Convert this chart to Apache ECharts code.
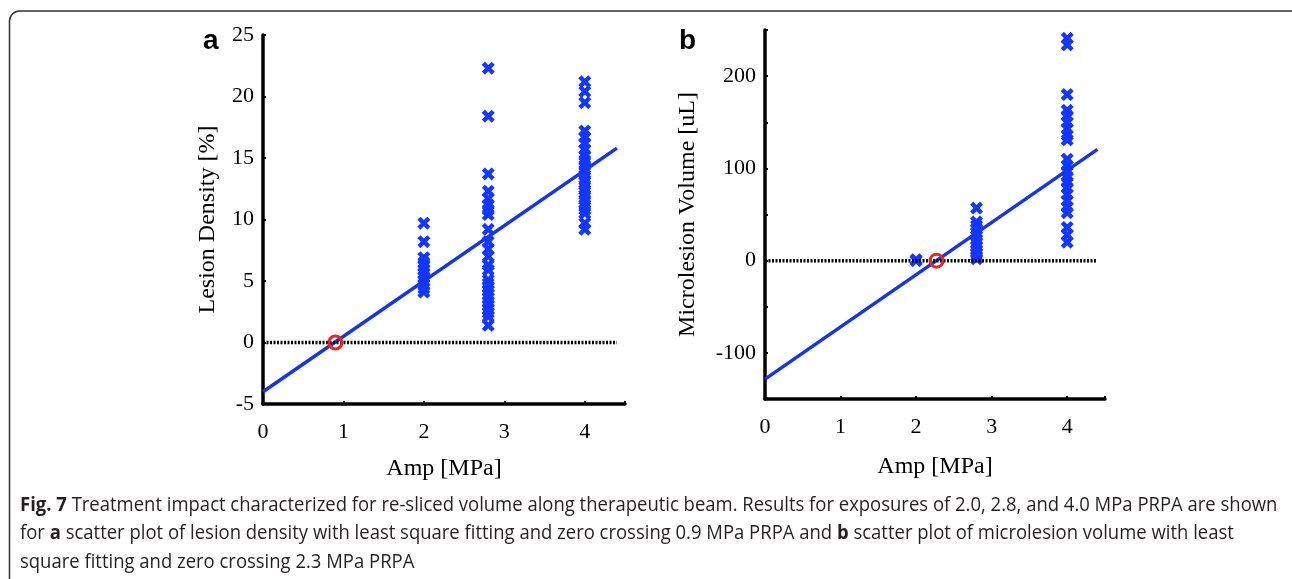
<!DOCTYPE html>
<html>
<head>
<meta charset="utf-8">
<script src="https://cdn.jsdelivr.net/npm/echarts@6/dist/echarts.min.js"></script>
<style>
  html, body { margin: 0; padding: 0; background: #fff; }
  #main { width: 1292px; height: 579px; }
</style>
</head>
<body>
<div id="main"></div>
<script>
// ---- data ----
// panel a: lesion density [%] at each amplitude
var ampA = [2.0, 2.8, 4.0];
var densityAt20 = [9.7, 8.2, 6.9, 6.5, 6.2, 5.9, 5.6, 5.3, 5.0, 4.7, 4.4, 4.1];
var densityAt28 = [22.3, 18.4, 13.7, 12.3, 11.7, 11.2, 10.8, 10.4, 9.2, 8.2, 7.6, 7.0, 6.3, 5.9,
                   5.1, 4.8, 4.5, 4.2, 3.9, 3.6, 3.3, 3.0, 2.7, 2.4, 2.1, 1.4];
var densityAt40 = [21.2, 20.4, 19.5, 17.2, 16.7, 16.2, 15.7, 15.2, 14.8, 14.4, 14.0, 13.6, 13.2,
                   12.8, 12.4, 12.0, 11.6, 11.2, 10.8, 10.5, 9.7, 9.2];
var fitAX = [0, 4.4];
var fitAY = [-4.0, 15.8];
var zeroA = 0.9;

// panel b: microlesion volume [uL] at each amplitude
var ampB = [2.0, 2.8, 4.0];
var volumeAt20 = [1, 0];
var volumeAt28 = [57, 42, 38, 34, 30, 27, 23, 19, 15, 11, 8, 5, 2];
var volumeAt40 = [241, 234, 180, 163, 157, 150, 143, 136, 131, 110, 103, 97, 91, 85, 79, 72,
                  65, 58, 52, 36, 28, 20];
var fitBX = [0, 4.4];
var fitBY = [-128.5, 120.6];
var zeroB = 2.27;

var xTicks = [0, 1, 2, 3, 4];
var yTicksA = [-5, 0, 5, 10, 15, 20, 25];
var yTicksB = [-100, 0, 100, 200];

var captionLines = [
  ['Fig. 7', ' Treatment impact characterized for re-sliced volume along therapeutic beam. Results for exposures of 2.0, 2.8, and 4.0 MPa PRPA are shown'],
  ['for ', 'a', ' scatter plot of lesion density with least square fitting and zero crossing 0.9 MPa PRPA and ', 'b', ' scatter plot of microlesion volume with least'],
  ['square fitting and zero crossing 2.3 MPa PRPA']
];

// ---- helpers ----
function pts(x, ys) { return ys.map(function (y) { return [x, y]; }); }
function pairs(xs, ys) { return xs.map(function (x, i) { return [x, ys[i]]; }); }

var serif = '"Liberation Serif", "DejaVu Serif", serif';
var capFont = '"Open Sans", "Noto Sans", sans-serif';
var capSize = 19.5;
var blue = '#1437ff';
var lineBlue = '#1535e6';
var xMark = 'path://M0,2.4 L2.4,0 L5,2.6 L7.6,0 L10,2.4 L7.4,5 L10,7.6 L7.6,10 L5,7.4 L2.4,10 L0,7.6 L2.6,5 Z';

// caption is a condensed face in the figure: squeeze the first line to its width
var ctx = document.createElement('canvas').getContext('2d');
ctx.font = capSize + 'px ' + capFont;
var capScale = 1255 / ctx.measureText(captionLines[0].join('')).width;

var myChart = echarts.init(document.getElementById('main'));

function xAxisCfg(grid) {
  return {
    gridIndex: grid, type: 'value', min: 0, max: 4.5, interval: 1,
    name: 'Amp [MPa]', nameLocation: 'middle', nameGap: grid === 0 ? 53 : 56,
    nameTextStyle: { fontFamily: serif, fontSize: 24, color: '#000' },
    axisLine: { onZero: false, lineStyle: { color: '#000', width: 3.5 } },
    axisTick: { inside: true, length: 3, lineStyle: { color: '#000', width: 2 } },
    axisLabel: {
      fontFamily: serif, fontSize: 22, color: '#000', margin: 17,
      formatter: function (v) { return xTicks.indexOf(v) >= 0 ? String(v) : ''; }
    },
    splitLine: { show: false }
  };
}

function yAxisCfg(grid, min, max, interval, ticks, name, gap) {
  return {
    gridIndex: grid, type: 'value', min: min, max: max, interval: interval,
    name: name, nameLocation: 'middle', nameGap: gap, nameRotate: 90,
    nameTextStyle: { fontFamily: serif, fontSize: 24, color: '#000' },
    axisLine: { onZero: false, lineStyle: { color: '#000', width: 3.5 } },
    axisTick: { inside: true, length: 3, lineStyle: { color: '#000', width: 2 } },
    axisLabel: {
      fontFamily: serif, fontSize: 22, color: '#000', margin: 9,
      formatter: function (v) { return ticks.indexOf(v) >= 0 ? String(v) : ''; }
    },
    splitLine: { show: false }
  };
}

function scatter(xi, data) {
  return {
    type: 'scatter', xAxisIndex: xi, yAxisIndex: xi, data: data,
    symbol: xMark, symbolSize: 13, itemStyle: { color: blue, opacity: 1 }, z: 2, silent: true
  };
}

var option = {
  animation: false,
  backgroundColor: '#fff',
  grid: [
    { left: 263, top: 35, width: 362, height: 369 },
    { left: 765, top: 30, width: 340, height: 369 }
  ],
  xAxis: [xAxisCfg(0), xAxisCfg(1)],
  yAxis: [
    yAxisCfg(0, -5, 25, 5, yTicksA, 'Lesion Density [%]', 43),
    yAxisCfg(1, -150, 250, 50, yTicksB, 'Microlesion Volume [uL]', 65)
  ],
  series: [
    scatter(0, pts(ampA[0], densityAt20)),
    scatter(0, pts(ampA[1], densityAt28)),
    scatter(0, pts(ampA[2], densityAt40)),
    scatter(1, pts(ampB[0], volumeAt20)),
    scatter(1, pts(ampB[1], volumeAt28)),
    scatter(1, pts(ampB[2], volumeAt40)),
    { type: 'line', xAxisIndex: 0, yAxisIndex: 0, data: pairs(fitAX, fitAY), symbol: 'none',
      lineStyle: { color: lineBlue, width: 3.5 }, z: 3, silent: true },
    { type: 'line', xAxisIndex: 1, yAxisIndex: 1, data: pairs(fitBX, fitBY), symbol: 'none',
      lineStyle: { color: lineBlue, width: 3.5 }, z: 3, silent: true },
    { type: 'line', xAxisIndex: 0, yAxisIndex: 0, data: pairs(fitAX, [0, 0]), symbol: 'none',
      lineStyle: { color: '#000', width: 3.5, type: [2, 1.5], cap: 'butt' }, z: 4, silent: true },
    { type: 'line', xAxisIndex: 1, yAxisIndex: 1, data: pairs(fitBX, [0, 0]), symbol: 'none',
      lineStyle: { color: '#000', width: 3.5, type: [2, 1.5], cap: 'butt' }, z: 4, silent: true },
    { type: 'scatter', xAxisIndex: 0, yAxisIndex: 0, data: [[zeroA, 0]], symbol: 'circle', symbolSize: 13,
      itemStyle: { color: 'rgba(0,0,0,0)', borderColor: '#e8261c', borderWidth: 3, opacity: 1 }, z: 5, silent: true },
    { type: 'scatter', xAxisIndex: 1, yAxisIndex: 1, data: [[zeroB, 0]], symbol: 'circle', symbolSize: 13,
      itemStyle: { color: 'rgba(0,0,0,0)', borderColor: '#e8261c', borderWidth: 3, opacity: 1 }, z: 5, silent: true }
  ],
  graphic: [
    { type: 'rect', shape: { x: 9.5, y: 11, width: 1300, height: 600, r: 10 },
      style: { fill: 'none', stroke: '#333', lineWidth: 1.5 }, z: -1, silent: true },
    { type: 'text', left: 203, top: 27,
      style: { text: 'a', font: 'bold 28px "Liberation Sans", Arial, sans-serif', fill: '#000' } },
    { type: 'text', left: 679, top: 27,
      style: { text: 'b', font: 'bold 28px "Liberation Sans", Arial, sans-serif', fill: '#000' } }
  ].concat(captionLines.map(function (parts, i) {
    var rich = [];
    parts.forEach(function (p, j) {
      var bold = (i === 0 && j === 0) || (i === 1 && (j === 1 || j === 3));
      rich.push('{' + (bold ? 'b' : 'n') + '|' + p + '}');
    });
    return {
      type: 'text', x: 20, y: 495 + i * 28.5, scaleX: capScale, originX: 0,
      style: {
        text: rich.join(''),
        rich: {
          n: { fontFamily: capFont, fontSize: capSize, fill: '#231f20' },
          b: { fontFamily: capFont, fontSize: capSize, fontWeight: 'bold', fill: '#231f20' }
        }
      }
    };
  }))
};

myChart.setOption(option);
</script>
</body>
</html>
